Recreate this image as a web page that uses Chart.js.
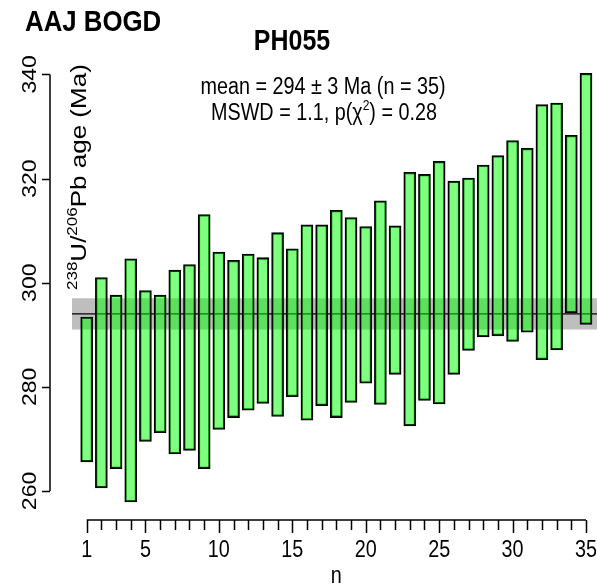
<!DOCTYPE html>
<html>
<head>
<meta charset="utf-8">
<script src="https://cdn.jsdelivr.net/npm/chart.js@4.4.0/dist/chart.umd.min.js"></script>
<style>
html, body { margin: 0; padding: 0; background: #fff; overflow: hidden; }
canvas { display: block; }
</style>
</head>
<body>
<canvas id="chart" width="597" height="587"></canvas>
<script>
// PH055 weighted mean, one bar per analysis (2 sigma age range)
const analysis = [1, 2, 3, 4, 5, 6, 7, 8, 9, 10, 11, 12, 13, 14, 15, 16, 17, 18,
    19, 20, 21, 22, 23, 24, 25, 26, 27, 28, 29, 30, 31, 32, 33, 34, 35];
const ageLow = [265.6, 260.6, 264.3, 257.9, 269.5, 271.2, 267.1, 267.8, 264.3, 271.8,
    274.1, 275.5, 276.8, 274.3, 278.1, 273.6, 276.4, 274.1, 277.0, 280.7,
    276.6, 282.4, 272.5, 277.4, 276.7, 282.4, 287.0, 289.6, 289.8, 288.7,
    290.5, 285.2, 287.1, 294.2, 292.0];
const ageHigh = [293.4, 301.0, 297.6, 304.6, 298.5, 297.6, 302.4, 303.5, 313.1, 305.9,
    304.3, 305.5, 304.8, 309.6, 306.5, 311.1, 311.1, 313.9, 312.5, 310.8,
    315.7, 310.9, 321.2, 320.8, 323.3, 319.5, 320.1, 322.6, 324.4, 327.3,
    325.8, 334.2, 334.5, 328.3, 340.2];
const meanAge = 294;
const meanErr = 3;
const yTicks = [260, 280, 300, 320, 340];
const xTicks = analysis;
const xLabels = [1, 5, 10, 15, 20, 25, 30, 35];
const xRange = [0, 35.75];
const yRange = [255, 342];

const FONT = '"Liberation Sans", Arial, sans-serif';
const SX = 0.86; // the reference text is a bit condensed

function hText(ctx, str, x, y, size, bold, align) {
    ctx.save();
    ctx.translate(x, y);
    ctx.scale(SX, 1);
    ctx.font = (bold ? 'bold ' : '') + size + 'px ' + FONT;
    ctx.textAlign = align || 'center';
    ctx.textBaseline = 'alphabetic';
    ctx.fillStyle = '#000';
    ctx.fillText(str, 0, 0);
    ctx.restore();
}

function vText(ctx, str, x, y, size) {
    ctx.save();
    ctx.translate(x, y);
    ctx.scale(SX, 1);
    ctx.rotate(-Math.PI / 2);
    ctx.font = size + 'px ' + FONT;
    ctx.textAlign = 'center';
    ctx.textBaseline = 'alphabetic';
    ctx.fillStyle = '#000';
    ctx.fillText(str, 0, 0);
    ctx.restore();
}

const axesPlugin = {
    id: 'rAxes',
    afterDraw(chart) {
        const ctx = chart.ctx;
        const xs = chart.scales.x, ys = chart.scales.y;
        const area = chart.chartArea;
        ctx.save();
        ctx.strokeStyle = '#000';
        ctx.lineWidth = 1.5;

        // x axis
        const ax = area.bottom + 3;
        ctx.beginPath();
        ctx.moveTo(xs.getPixelForValue(xTicks[0]), ax);
        ctx.lineTo(xs.getPixelForValue(xTicks[xTicks.length - 1]), ax);
        xTicks.forEach(v => {
            const px = Math.round(xs.getPixelForValue(v)) + 0.5;
            const len = xLabels.includes(v) ? 13 : 10;
            ctx.moveTo(px, ax);
            ctx.lineTo(px, ax + len);
        });
        ctx.stroke();
        xLabels.forEach(v => hText(ctx, String(v), xs.getPixelForValue(v), 557, 23, false));
        hText(ctx, 'n', (xs.getPixelForValue(1) + xs.getPixelForValue(35)) / 2, 583, 23, false);

        // y axis
        const ay = area.left - 22;
        ctx.beginPath();
        ctx.moveTo(ay, ys.getPixelForValue(yTicks[0]));
        ctx.lineTo(ay, ys.getPixelForValue(yTicks[yTicks.length - 1]));
        yTicks.forEach(v => {
            const py = Math.round(ys.getPixelForValue(v)) + 0.5;
            ctx.moveTo(ay, py);
            ctx.lineTo(ay - 8, py);
        });
        ctx.stroke();
        yTicks.forEach(v => vText(ctx, String(v), 36, ys.getPixelForValue(v), 23));

        // y title with superscripts, read bottom to top
        ctx.save();
        ctx.translate(86, 290);
        ctx.scale(SX, 1);
        ctx.rotate(-Math.PI / 2);
        ctx.fillStyle = '#000';
        ctx.textAlign = 'left';
        ctx.textBaseline = 'alphabetic';
        const parts = [['238', true], ['U/', false], ['206', true], ['Pb age (Ma)', false]];
        let cx = 0;
        parts.forEach(([t, sup]) => {
            ctx.font = (sup ? 17 : 26) + 'px ' + FONT;
            ctx.fillText(t, cx, sup ? -11 : 0);
            cx += ctx.measureText(t).width;
        });
        ctx.restore();

        // titles and statistics
        hText(ctx, 'AAJ BOGD', 25, 31, 30, true, 'left');
        hText(ctx, 'PH055', 292, 50, 29, true);
        hText(ctx, 'mean = 294 \u00b1 3 Ma (n = 35)', 323, 94, 23, false);
        // second line with chi squared superscript
        ctx.save();
        ctx.translate(324, 120);
        ctx.scale(SX, 1);
        ctx.fillStyle = '#000';
        ctx.textBaseline = 'alphabetic';
        const seg = [['MSWD = 1.1, p(\u03c7', 23, 0], ['2', 14, -10], [') = 0.28', 23, 0]];
        let total = 0;
        seg.forEach(([t, s]) => { ctx.font = s + 'px ' + FONT; total += ctx.measureText(t).width; });
        let sx = -total / 2;
        ctx.textAlign = 'left';
        seg.forEach(([t, s, dy]) => {
            ctx.font = s + 'px ' + FONT;
            ctx.fillText(t, sx, dy);
            sx += ctx.measureText(t).width;
        });
        ctx.restore();
        ctx.restore();
    }
};

const ctx = document.getElementById('chart').getContext('2d');
new Chart(ctx, {
    type: 'bar',
    data: {
        datasets: [
            {
                type: 'line',
                label: 'band',
                data: [{ x: xRange[0], y: meanAge + meanErr }, { x: xRange[1], y: meanAge + meanErr }],
                fill: { value: meanAge - meanErr },
                backgroundColor: 'rgb(190,190,190)',
                borderWidth: 0,
                pointRadius: 0,
                order: 3
            },
            {
                type: 'line',
                label: 'mean',
                data: [{ x: xRange[0], y: meanAge }, { x: xRange[1], y: meanAge }],
                borderColor: '#000',
                borderWidth: 1.3,
                pointRadius: 0,
                fill: false,
                order: 2
            },
            {
                label: 'ages',
                data: analysis.map((n, i) => ({ x: n, y: [ageLow[i], ageHigh[i]] })),
                backgroundColor: 'rgba(0,255,0,0.5)',
                borderColor: '#000',
                borderWidth: 1.6,
                borderSkipped: false,
                barThickness: 12,
                order: 1
            }
        ]
    },
    options: {
        responsive: false,
        animation: false,
        layout: { padding: { left: 72, right: 0, top: 64, bottom: 70 } },
        plugins: { legend: { display: false }, tooltip: { enabled: false }, title: { display: false } },
        scales: {
            x: { type: 'linear', min: xRange[0], max: xRange[1], offset: false, display: false },
            y: { type: 'linear', min: yRange[0], max: yRange[1], display: false }
        }
    },
    plugins: [axesPlugin]
});
</script>
</body>
</html>
